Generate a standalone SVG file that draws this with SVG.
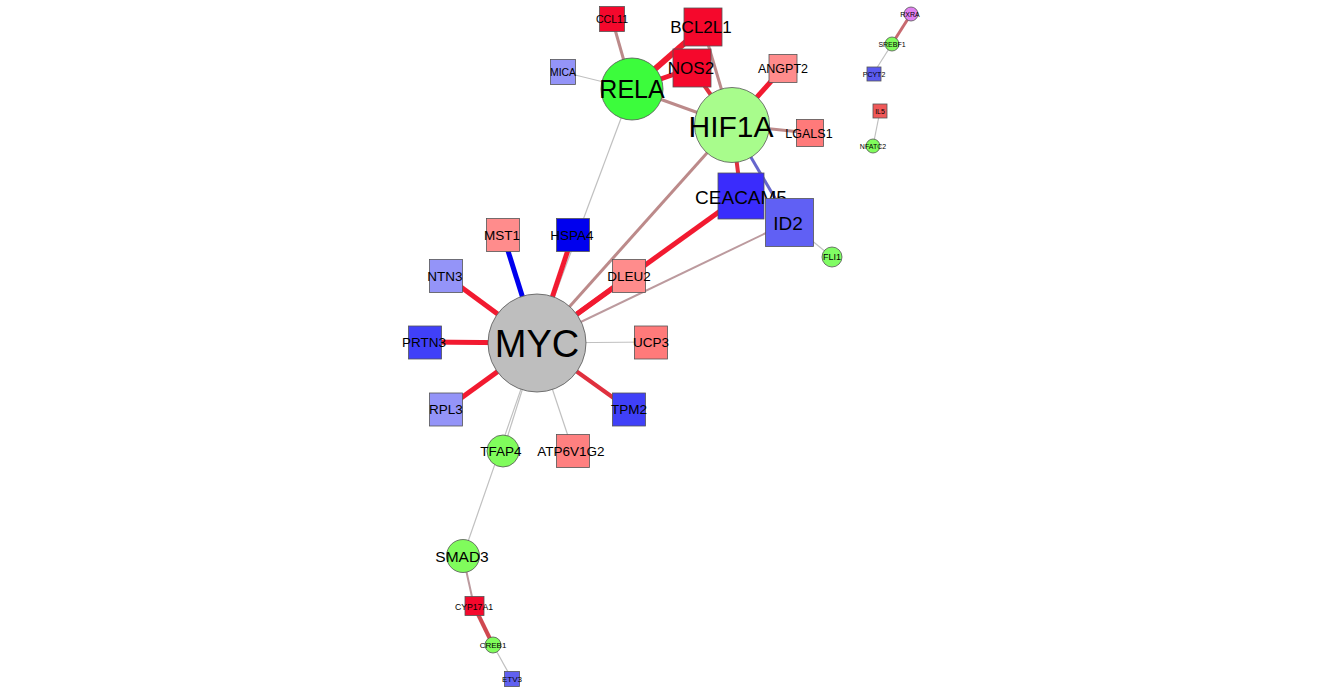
<svg xmlns="http://www.w3.org/2000/svg" width="1323" height="694" viewBox="0 0 1323 694">
<style>
text{font-family:"Liberation Sans",Arial,sans-serif;fill:#000;text-anchor:middle;dominant-baseline:central}
.n{stroke:#555;stroke-width:0.8}
.red{stroke:#f21a30;stroke-width:5}
.red4{stroke:#e0303e;stroke-width:4}
.brn{stroke:#bc8a8a;stroke-width:3}
.brn2{stroke:#bc9a9e;stroke-width:2}
.gry{stroke:#c0c0c0;stroke-width:1.2}
.blu{stroke:#0000ee;stroke-width:5}
.blu2{stroke:#6666cc;stroke-width:3}
</style>
<rect width="1323" height="694" fill="#fff"/>
<g id="edges" fill="none">
<line class="brn" x1="632" y1="89" x2="612" y2="19"/>
<line class="gry" x1="632" y1="89" x2="563" y2="72"/>
<line class="red" x1="632" y1="89" x2="703" y2="27" style="stroke-width:6"/>
<line class="red" x1="632" y1="89" x2="692" y2="68"/>
<line class="brn" x1="632" y1="89" x2="732" y2="125"/>
<line class="gry" x1="632" y1="89" x2="537" y2="343"/>
<line class="brn" x1="732" y1="125" x2="703" y2="27"/>
<line class="red4" x1="732" y1="125" x2="692" y2="68"/>
<line class="red" x1="732" y1="125" x2="783" y2="68"/>
<line class="brn" x1="732" y1="125" x2="810" y2="133"/>
<line class="red4" x1="732" y1="125" x2="741" y2="196"/>
<line class="blu2" x1="732" y1="125" x2="789" y2="222"/>
<line class="brn" x1="732" y1="125" x2="537" y2="343"/>
<line class="red" x1="741" y1="196" x2="537" y2="343"/>
<line class="brn2" x1="789" y1="222" x2="537" y2="343"/>
<line class="gry" x1="789" y1="222" x2="832" y2="257"/>
<line class="blu" x1="537" y1="343" x2="503" y2="235"/>
<line class="red" x1="537" y1="343" x2="573" y2="235"/>
<line class="red" x1="537" y1="343" x2="446" y2="276"/>
<line class="red" x1="537" y1="343" x2="629" y2="276"/>
<line class="red" x1="537" y1="343" x2="425" y2="342"/>
<line class="gry" x1="537" y1="343" x2="651" y2="342"/>
<line class="red" x1="537" y1="343" x2="446" y2="409"/>
<line class="red4" x1="537" y1="343" x2="629" y2="409"/>
<line class="gry" x1="537" y1="343" x2="573" y2="451"/>
<line class="gry" x1="537" y1="343" x2="503" y2="451"/>
<line class="gry" x1="537" y1="343" x2="463" y2="556"/>
<line class="brn2" x1="463" y1="556" x2="474" y2="606"/>
<line class="red4" x1="474" y1="606" x2="493" y2="645" style="stroke:#d04850"/>
<line class="gry" x1="493" y1="645" x2="512" y2="679"/>
<line class="brn" x1="911" y1="14" x2="892" y2="44" style="stroke:#c86a70"/>
<line class="gry" x1="892" y1="44" x2="873" y2="74"/>
<line class="gry" x1="880" y1="111" x2="873" y2="146"/>
</g>
<g id="MYC"><circle class="n" cx="537" cy="343" r="49" fill="#bebebe"/><text x="537" y="344" font-size="38">MYC</text></g>
<g id="RELA"><circle class="n" cx="632" cy="89" r="31" fill="#3cfc3c"/><text x="632" y="89" font-size="25">RELA</text></g>
<g id="HIF1A"><circle class="n" cx="732" cy="125" r="37.5" fill="#a8fc8c"/><text x="731" y="126" font-size="30">HIF1A</text></g>
<g id="CCL11"><rect class="n" x="599.5" y="6.5" width="25" height="25" fill="#f5082c"/><text x="612" y="19" font-size="10.6">CCL11</text></g>
<g id="MICA"><rect class="n" x="550.5" y="59.5" width="25" height="25" fill="#9494f8"/><text x="563" y="72" font-size="10.4">MICA</text></g>
<g id="BCL2L1"><rect class="n" x="684" y="8" width="38" height="38" fill="#f5082c"/><text x="701" y="27" font-size="17">BCL2L1</text></g>
<g id="NOS2"><rect class="n" x="673" y="49" width="38" height="38" fill="#f5082c"/><text x="691" y="68" font-size="17">NOS2</text></g>
<g id="ANGPT2"><rect class="n" x="769" y="54.5" width="28" height="28" fill="#ff8c8c"/><text x="783" y="69" font-size="12.5">ANGPT2</text></g>
<g id="LGALS1"><rect class="n" x="796.5" y="119.5" width="27" height="27" fill="#ff7a7a"/><text x="809" y="134" font-size="12.5">LGALS1</text></g>
<g id="CEACAM5"><rect class="n" x="718" y="173" width="46" height="46" fill="#3a2cfc"/><text x="741" y="197" font-size="19">CEACAM5</text></g>
<g id="ID2"><rect class="n" x="765.5" y="198.5" width="48" height="48" fill="#6060f4"/><text x="788" y="223" font-size="19">ID2</text></g>
<g id="FLI1"><circle class="n" cx="832" cy="257" r="10" fill="#80fc64"/><text x="832" y="257" font-size="9">FLI1</text></g>
<g id="MST1"><rect class="n" x="486.5" y="218.5" width="33" height="33" fill="#ff8c8c"/><text x="502" y="235" font-size="13.5">MST1</text></g>
<g id="HSPA4"><rect class="n" x="556.5" y="218.5" width="33" height="33" fill="#0000ee"/><text x="572" y="235" font-size="13.5">HSPA4</text></g>
<g id="NTN3"><rect class="n" x="429.5" y="259.5" width="33" height="33" fill="#9494f8"/><text x="445" y="276" font-size="13.5">NTN3</text></g>
<g id="DLEU2"><rect class="n" x="612.5" y="259.5" width="33" height="33" fill="#ff8c8c"/><text x="629" y="276" font-size="13.5">DLEU2</text></g>
<g id="PRTN3"><rect class="n" x="408.5" y="326" width="33" height="33" fill="#4040f8"/><text x="424" y="342" font-size="13.5">PRTN3</text></g>
<g id="UCP3"><rect class="n" x="634.5" y="326" width="33" height="33" fill="#ff7a7a"/><text x="651" y="342" font-size="13.5">UCP3</text></g>
<g id="RPL3"><rect class="n" x="429.5" y="393" width="33" height="33" fill="#9494f8"/><text x="446" y="409" font-size="13.5">RPL3</text></g>
<g id="TPM2"><rect class="n" x="612.5" y="393" width="33" height="33" fill="#4040f8"/><text x="629" y="409" font-size="13.5">TPM2</text></g>
<g id="ATP6V1G2"><rect class="n" x="556.5" y="434.5" width="33" height="33" fill="#ff8080"/><text x="571" y="451" font-size="13.5">ATP6V1G2</text></g>
<g id="TFAP4"><circle class="n" cx="503" cy="451" r="16" fill="#80fc5c"/><text x="501" y="451" font-size="13.5">TFAP4</text></g>
<g id="SMAD3"><circle class="n" cx="463" cy="556" r="16.5" fill="#80fc5c"/><text x="462" y="556" font-size="15.5">SMAD3</text></g>
<g id="CYP17A1"><rect class="n" x="465" y="596.5" width="19" height="19" fill="#f5082c"/><text x="474" y="606.5" font-size="8.7">CYP17A1</text></g>
<g id="CREB1"><circle class="n" cx="493" cy="645" r="8" fill="#80fc5c"/><text x="493" y="645.5" font-size="8">CREB1</text></g>
<g id="ETV3"><rect class="n" x="504.5" y="671.5" width="15" height="15" fill="#6060f0"/><text x="512" y="679.5" font-size="8">ETV3</text></g>
<g id="RXRA"><circle class="n" cx="911" cy="14" r="7" fill="#e080f0"/><text x="910" y="14.5" font-size="7">RXRA</text></g>
<g id="SREBF1"><circle class="n" cx="892" cy="44" r="7" fill="#80fc5c"/><text x="892" y="44.5" font-size="7">SREBF1</text></g>
<g id="PCYT2"><rect class="n" x="867" y="67" width="14" height="14" fill="#5a5af0"/><text x="874" y="74.5" font-size="7">PCYT2</text></g>
<g id="IL5"><rect class="n" x="873" y="104" width="14" height="14" fill="#f05858"/><text x="880" y="111.5" font-size="7">IL5</text></g>
<g id="NFATC2"><circle class="n" cx="873" cy="146" r="7" fill="#80fc5c"/><text x="873" y="146.5" font-size="7">NFATC2</text></g>
</svg>
